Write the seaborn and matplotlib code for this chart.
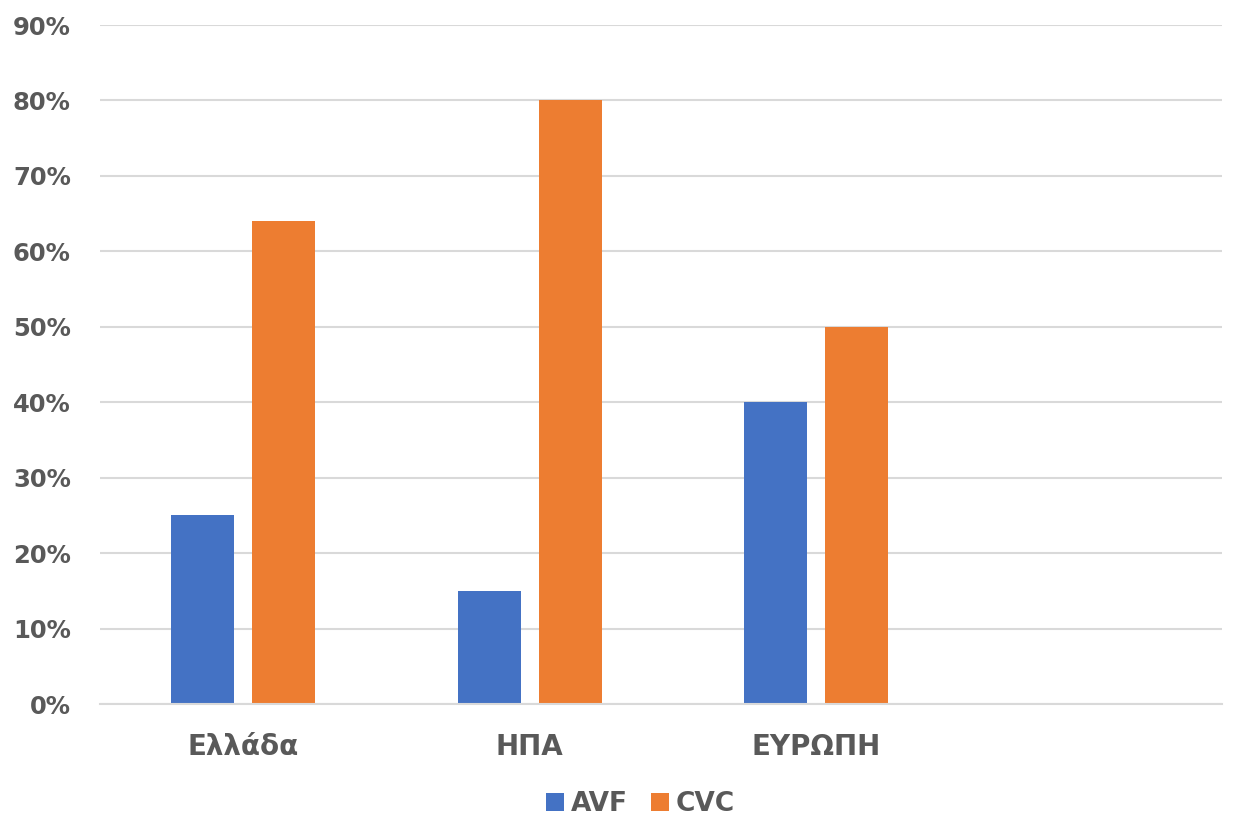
import matplotlib
matplotlib.use("Agg")
import matplotlib.pyplot as plt
import seaborn as sns
import pandas as pd
from matplotlib.ticker import PercentFormatter

# data
categories = ["Ελλάδα", "ΗΠΑ", "ΕΥΡΩΠΗ"]
axis_order = ["Ελλάδα", "ΗΠΑ", "ΕΥΡΩΠΗ", " "]
avf = [0.25, 0.15, 0.40]
cvc = [0.64, 0.80, 0.50]
series = ["AVF", "CVC"]
colors = ["#4472C4", "#ED7D31"]

df = pd.DataFrame({
    "region": categories * 2,
    "value": avf + cvc,
    "type": [series[0]] * 3 + [series[1]] * 3,
})

sns.set_theme(style="white")
plt.rcParams["font.family"] = ["DejaVu Sans"]
text_color = "#595959"

fig = plt.figure(figsize=(12.36, 8.17), dpi=100)
ax = fig.add_axes([100 / 1236, 1 - 704 / 817, 1122 / 1236, 679 / 817])

sns.barplot(data=df, x="region", y="value", hue="type", order=axis_order,
            hue_order=series, palette=colors, width=0.566, gap=0.222,
            saturation=1, linewidth=0, ax=ax, legend=True)

ax.set_xlim(-0.501, 3.418)
ax.set_ylim(0, 0.9)
ax.set_yticks([i / 10 for i in range(10)])
ax.yaxis.set_major_formatter(PercentFormatter(1.0, decimals=0))
ax.yaxis.grid(True, color="#d9d9d9", linewidth=1.5)
ax.set_axisbelow(True)
for s in ["top", "right", "left"]:
    ax.spines[s].set_visible(False)
ax.spines["bottom"].set_color("#d9d9d9")
ax.spines["bottom"].set_linewidth(1.5)
ax.set_xlabel("")
ax.set_ylabel("")
ax.tick_params(axis="both", length=0, labelcolor=text_color)
ax.tick_params(axis="y", pad=21, labelsize=17.5)
ax.tick_params(axis="x", pad=21, labelsize=20)
for lbl in ax.get_xticklabels() + ax.get_yticklabels():
    lbl.set_fontweight("bold")

handles, labels = ax.get_legend_handles_labels()
ax.legend_.remove()
leg = fig.legend(handles, labels, loc="center", bbox_to_anchor=(0.518, 1 - 804 / 817),
                 ncol=2, frameon=False, fontsize=19, handlelength=0.68, handleheight=0.68,
                 columnspacing=0.87, handletextpad=0.25)
for t in leg.get_texts():
    t.set_color(text_color)
    t.set_fontweight("bold")

fig.savefig("out.png", dpi=100)
